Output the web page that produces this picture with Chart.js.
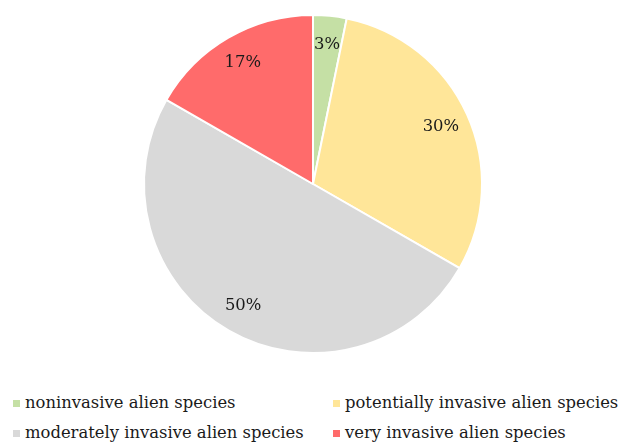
<!DOCTYPE html>
<html>
<head>
<meta charset="utf-8">
<script src="https://cdn.jsdelivr.net/npm/chart.js@4/dist/chart.umd.min.js"></script>
<style>
  html, body { margin: 0; padding: 0; background: #fff; overflow: hidden; }
  #wrap { position: relative; width: 621px; height: 443px; }
  #pieWrap { position: absolute; left: 0; top: 0; width: 621px; height: 368px; }
  .leg { position: absolute; font-family: "DejaVu Serif", serif; font-size: 16.4px; color: #1a1a1a; white-space: nowrap; line-height: 20px; }
  .leg i { position: absolute; left: -12px; top: 7px; width: 7px; height: 7px; }
</style>
</head>
<body>
<div id="wrap">
  <div id="pieWrap"><canvas id="pie"></canvas></div>
  <div id="legend"></div>
</div>
<script>
// === Data ====================================================================
const categories = [
  "noninvasive alien species",
  "potentially invasive alien species",
  "moderately invasive alien species",
  "very invasive alien species",
];
const shares = [3.2, 30.1, 50.0, 16.7];
const shareLabels = ["3%", "30%", "50%", "17%"];
const colors = ["#c5e0a5", "#ffe699", "#d9d9d9", "#ff6b6b"];

// === Slice labels ============================================================
const sliceLabels = {
  id: "sliceLabels",
  afterDatasetsDraw(chart) {
    const { ctx } = chart;
    const meta = chart.getDatasetMeta(0);
    ctx.save();
    ctx.font = "16.4px 'DejaVu Serif', serif";
    ctx.fillStyle = "#1a1a1a";
    ctx.textAlign = "center";
    ctx.textBaseline = "middle";
    meta.data.forEach((arc, i) => {
      const p = arc.getProps(["x", "y", "startAngle", "endAngle", "outerRadius"], true);
      const mid = (p.startAngle + p.endAngle) / 2;
      const r = p.outerRadius * 0.83;
      ctx.fillText(shareLabels[i], p.x + Math.cos(mid) * r, p.y + Math.sin(mid) * r);
    });
    ctx.restore();
  },
};

new Chart(document.getElementById("pie"), {
  type: "pie",
  data: {
    labels: categories,
    datasets: [{
      data: shares,
      backgroundColor: colors,
      borderColor: "#ffffff",
      borderWidth: 2,
    }],
  },
  options: {
    responsive: true,
    maintainAspectRatio: false,
    animation: false,
    layout: { padding: { top: 14, bottom: 14, left: 5, right: 0 } },
    plugins: { legend: { display: false }, tooltip: { enabled: false } },
  },
  plugins: [sliceLabels],
});

// === Legend (two aligned columns) ============================================
const legend = document.getElementById("legend");
const legX = [25, 345];
const legY = [393, 423];
categories.forEach((name, i) => {
  const d = document.createElement("div");
  d.className = "leg";
  d.style.left = legX[i % 2] + "px";
  d.style.top = legY[Math.floor(i / 2)] + "px";
  d.innerHTML = `<i style="background:${colors[i]}"></i>${name}`;
  legend.appendChild(d);
});
</script>
</body>
</html>
